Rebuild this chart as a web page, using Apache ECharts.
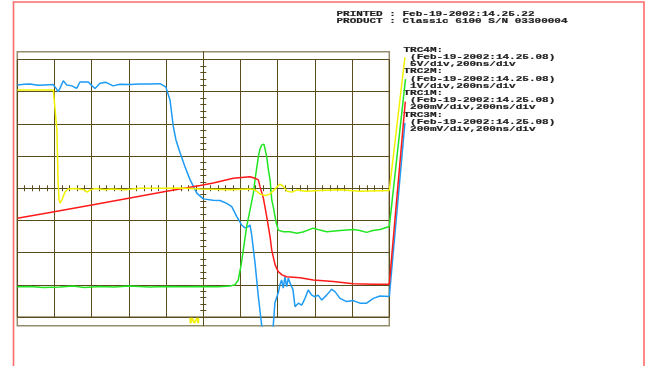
<!DOCTYPE html>
<html><head><meta charset="utf-8">
<script src="https://cdn.jsdelivr.net/npm/echarts@6/dist/echarts.min.js"></script>
<style>html,body{margin:0;padding:0;background:#fff}#c{width:648px;height:366px}</style>
</head><body><div id="c"></div>
<script>
// ---- text ----
const headerLines = ['PRINTED : Feb-19-2002:14.25.22', 'PRODUCT : Classic 6100 S/N 03300004'];
const traceNames = ['TRC4M:', 'TRC2M:', 'TRC1M:', 'TRC3M:'];
const traceDates = [' (Feb-19-2002:14.25.08)', ' (Feb-19-2002:14.25.08)', ' (Feb-19-2002:14.25.08)', ' (Feb-19-2002:14.25.08)'];
const traceScales = [' 5V/div,200ns/div', ' 1V/div,200ns/div', ' 200mV/div,200ns/div', ' 200mV/div,200ns/div'];
const triggerMark = 'M';

// ---- axes (time in ns, amplitude in divisions) ----
const timeRange = [-1000, 1000];
const timeStep = 200;
const divRange = [-4, 4];
const dataTimeMax = 1090;   // data area reaches past the screen so leader lines reach the labels

// ---- traces: [time ns, divisions] ----
const trc4Yellow = [[-1000,3.05],[-806,3.05],[-797,2.99],[-792,2.12],[-787,1.81],[-781,0.26],[-776,-0.36],[-770,-0.46],[-760,-0.36],[-744,-0.12],[-728,-0.02],[-689,-0.01],[-640,-0.05],[-624,-0.12],[-608,-0.05],[-581,-0.01],[-527,-0.05],[-500,-0.02],[-420,-0.05],[-339,0],[-231,0],[-124,0.01],[-18,-0.02],[144,-0.05],[251,-0.02],[278,-0.05],[305,-0.18],[332,-0.23],[359,-0.18],[386,-0.02],[412,0.13],[428,0.07],[450,-0.09],[477,-0.12],[504,-0.05],[547,-0.09],[627,-0.07],[735,-0.05],[842,-0.09],[1000,-0.07]];
const trc2Green = [[-1000,-3.06],[-930,-3.05],[-860,-3.08],[-770,-3.07],[-700,-3.04],[-640,-3.08],[-555,-3.05],[-480,-3.07],[-400,-3.04],[-287,-3.07],[-200,-3.05],[-100,-3.06],[-18,-3.05],[80,-3.06],[143,-3.04],[170,-3.0],[188,-2.85],[203,-2.39],[215,-1.92],[233,-1.19],[251,-0.68],[269,-0.16],[278,0.26],[296,0.98],[305,1.22],[314,1.34],[326,1.37],[341,0.98],[350,0.57],[359,0.26],[368,-0.36],[376,-0.57],[391,-1.05],[403,-1.3],[430,-1.35],[466,-1.35],[502,-1.4],[536,-1.36],[591,-1.24],[627,-1.3],[663,-1.35],[735,-1.31],[806,-1.28],[842,-1.31],[878,-1.37],[912,-1.31],[950,-1.28],[1000,-1.19]];
const trc1Red = [[-1000,-0.93],[-824,-0.75],[-600,-0.52],[-394,-0.3],[-197,-0.09],[-17,0.085],[54,0.16],[161,0.31],[251,0.36],[278,0.31],[296,0.26],[305,0.05],[323,-0.31],[341,-0.88],[359,-1.51],[368,-1.92],[386,-2.38],[403,-2.59],[423,-2.69],[448,-2.75],[520,-2.78],[591,-2.85],[699,-2.9],[806,-2.97],[914,-2.98],[1000,-2.98]];
const trc3Blue = [[-1000,3.21],[-960,3.23],[-932,3.24],[-890,3.2],[-852,3.21],[-808,3.22],[-792,3.11],[-781,3.0],[-770,3.11],[-753,3.34],[-734,3.21],[-706,3.18],[-681,3.1],[-663,3.3],[-641,3.3],[-618,3.3],[-598,3.18],[-582,3.1],[-555,3.26],[-523,3.29],[-485,3.18],[-448,3.23],[-394,3.22],[-340,3.24],[-287,3.24],[-233,3.25],[-202,3.15],[-179,2.74],[-161,1.91],[-147,1.5],[-125,1.1],[-98,0.66],[-71,0.26],[-35,-0.15],[0,-0.33],[52,-0.37],[90,-0.38],[126,-0.47],[153,-0.57],[180,-0.88],[206,-1.14],[224,-1.23],[240,-1.2],[251,-1.14],[260,-1.45],[278,-2.32],[296,-3.37],[314,-4.27],[342,-4.6],[376,-4.27],[385,-3.56],[394,-3.4],[403,-3.25],[412,-3.0],[421,-2.85],[430,-3.1],[439,-2.75],[448,-3.06],[457,-2.79],[466,-2.94],[482,-3.15],[493,-3.68],[511,-3.57],[529,-3.63],[547,-3.42],[564,-3.16],[583,-3.32],[600,-3.37],[617,-3.32],[637,-3.47],[663,-3.32],[690,-3.14],[708,-3.21],[735,-3.42],[771,-3.52],[806,-3.49],[842,-3.57],[878,-3.57],[914,-3.42],[950,-3.35],[1000,-3.36]];
// where each trace's leader line meets its label
const leaderEnds = [[1084,4.07],[1087,3.39],[1086,2.69],[1084,2.03]];

const traceData = [trc4Yellow, trc2Green, trc1Red, trc3Blue];
const traceColors = ['#f2f200', '#22e622', '#ff1a1a', '#1e9bf5'];

const GRID_COLOR = '#5a4c1c';
const BOX_COLOR = '#958c6c';
const TEXT_FONT = 'bold 11px "Liberation Mono", monospace';

const chart = echarts.init(document.getElementById('c'), null, {renderer: 'canvas'});

const PX_PER_NS = 372 / (timeRange[1] - timeRange[0]);
const dataWidth = (dataTimeMax - timeRange[0]) * PX_PER_NS;

const series = [];
// draw order: blue, green, red, yellow on top
[3, 1, 2, 0].forEach(i => {
  series.push({
    type: 'line', xAxisIndex: 0, yAxisIndex: 0, data: traceData[i],
    symbol: 'none', lineStyle: {color: traceColors[i], width: 1.5}, animation: false, z: 3
  });
  const last = traceData[i][traceData[i].length - 1];
  series.push({
    type: 'line', xAxisIndex: 0, yAxisIndex: 0, data: [last, leaderEnds[i]],
    symbol: 'none', lineStyle: {color: traceColors[i], width: 1.5}, animation: false, z: 3
  });
});

const graphics = [];
graphics.push({type: 'rect', shape: {x: 13.5, y: 2, width: 630.5, height: 400},
  style: {fill: 'none', stroke: '#ff6b6b', lineWidth: 1.6}, silent: true});
headerLines.forEach((t, i) => {
  graphics.push({type: 'text', x: 336.5, y: 14 + i * 7.2, scaleY: 0.68,
    style: {text: t, font: TEXT_FONT, fill: '#1e1e1e', stroke: '#1e1e1e', lineWidth: 0.3, align: 'left', verticalAlign: 'middle', textAlign: 'left', textVerticalAlign: 'middle'}});
});
const legendLines = [];
traceNames.forEach((n, i) => { legendLines.push(n, traceDates[i], traceScales[i]); });
legendLines.forEach((t, i) => {
  graphics.push({type: 'text', x: 403.5, y: 50 + i * 7.2, scaleY: 0.68,
    style: {text: t, font: TEXT_FONT, fill: '#1e1e1e', stroke: '#1e1e1e', lineWidth: 0.3, align: 'left', verticalAlign: 'middle', textAlign: 'left', textVerticalAlign: 'middle'}});
});
graphics.push({type: 'text', x: 194.5, y: 321.3, scaleY: 0.58, z: 10,
  style: {text: triggerMark, font: 'bold 13px "Liberation Sans", Arial, sans-serif', fill: '#f0f000', stroke: '#f0f000', lineWidth: 0.5, align: 'center', verticalAlign: 'middle', textAlign: 'center', textVerticalAlign: 'middle'}});

const hidden = {axisLabel: {show: false}, axisTick: {show: false}, splitLine: {show: false}};
const tickStyle = {show: true, length: 3, lineStyle: {color: GRID_COLOR, width: 1}};
const minorStyle = {show: true, splitNumber: 5, length: 3, lineStyle: {color: GRID_COLOR, width: 1}};

chart.setOption({
  animation: false,
  backgroundColor: '#ffffff',
  grid: [
    // data area (invisible), widened to the right for leader lines
    {left: 17.3, top: 51.7, width: dataWidth, height: 274, show: false},
    // graticule
    {left: 17.3, top: 59.5, width: 372, height: 257.5, show: true, borderColor: GRID_COLOR, borderWidth: 1, backgroundColor: 'transparent'},
    // outer screen box
    {left: 17.3, top: 51.7, width: 372, height: 274, show: true, borderColor: BOX_COLOR, borderWidth: 1.5, backgroundColor: 'transparent'}
  ],
  xAxis: [
    Object.assign({type: 'value', gridIndex: 0, min: timeRange[0], max: dataTimeMax, axisLine: {show: false, onZero: false}}, hidden),
    {type: 'value', gridIndex: 1, position: 'bottom', min: timeRange[0], max: timeRange[1], interval: timeStep,
      axisLine: {show: true, onZero: true, onZeroAxisIndex: 1, lineStyle: {color: GRID_COLOR, width: 1}},
      axisTick: tickStyle, minorTick: minorStyle, axisLabel: {show: false},
      splitLine: {show: true, lineStyle: {color: GRID_COLOR, width: 1}}},
    {type: 'value', gridIndex: 1, position: 'top', min: timeRange[0], max: timeRange[1], interval: timeStep,
      axisLine: {show: false, onZero: true, onZeroAxisIndex: 1},
      axisTick: tickStyle, minorTick: minorStyle, axisLabel: {show: false}, splitLine: {show: false}},
    Object.assign({type: 'value', gridIndex: 2, min: timeRange[0], max: timeRange[1], axisLine: {show: false, onZero: false}}, hidden)
  ],
  yAxis: [
    Object.assign({type: 'value', gridIndex: 0, min: -4.27, max: 4.242, axisLine: {show: false, onZero: false}}, hidden),
    {type: 'value', gridIndex: 1, position: 'left', min: divRange[0], max: divRange[1], interval: 1,
      axisLine: {show: false, onZero: true, onZeroAxisIndex: 1},
      axisTick: tickStyle, minorTick: minorStyle, axisLabel: {show: false},
      splitLine: {show: true, lineStyle: {color: GRID_COLOR, width: 1}}},
    {type: 'value', gridIndex: 1, position: 'right', min: divRange[0], max: divRange[1], interval: 1,
      axisLine: {show: false, onZero: true, onZeroAxisIndex: 1},
      axisTick: tickStyle, minorTick: minorStyle, axisLabel: {show: false}, splitLine: {show: false}},
    // vertical centre line through the whole screen box
    {type: 'value', gridIndex: 2, min: -4.27, max: 4.242,
      axisLine: {show: true, onZero: true, onZeroAxisIndex: 3, lineStyle: {color: GRID_COLOR, width: 1}},
      axisTick: {show: false}, axisLabel: {show: false}, splitLine: {show: false}}
  ],
  graphic: graphics,
  series: series
});
</script>
</body></html>
